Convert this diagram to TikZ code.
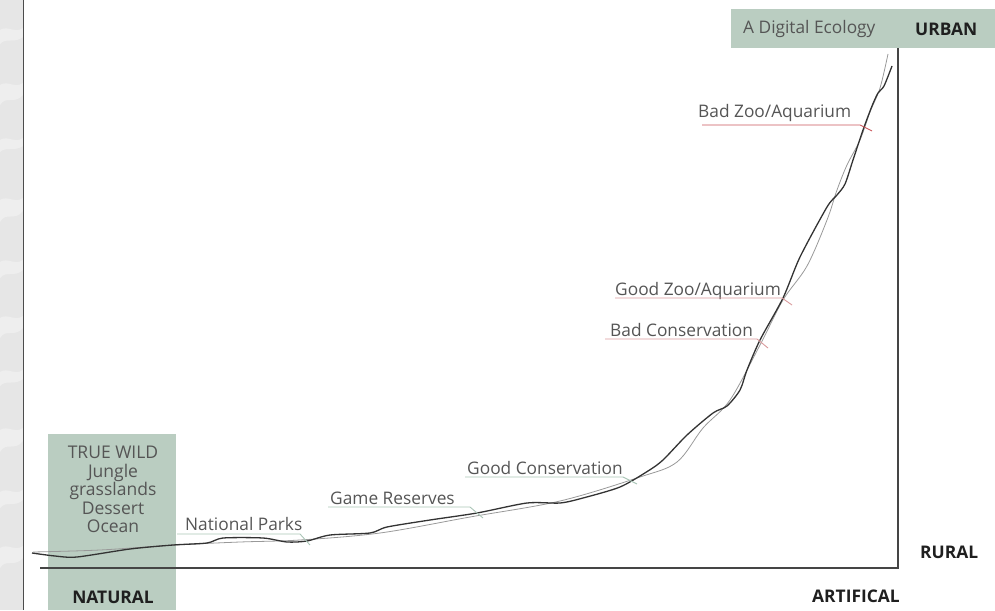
\documentclass[tikz,border=0pt]{standalone}
\usepackage{fontspec}
\setmainfont{Open Sans}
\usetikzlibrary{calc}
\definecolor{sage}{HTML}{BACDC1}
\definecolor{txtgray}{HTML}{555555}
\definecolor{axisgray}{HTML}{454545}
\definecolor{lowline}{HTML}{A9C5B6}
\definecolor{midline}{HTML}{D99A9C}
\definecolor{highline}{HTML}{C9565A}
\definecolor{stripgray}{HTML}{E6E6E6}
\begin{document}
\begin{tikzpicture}[x=1pt,y=-1pt,
  stagelabel/.style={font=\fontsize{17.3}{19}\selectfont, text=txtgray, inner sep=0pt, anchor=base west},
  axislabel/.style={font=\fontsize{17.4}{19}\bfseries\selectfont, text=black!88, inner sep=0pt, anchor=base west},
  uline/.style={line width=0.9pt},
  curvemain/.style={line width=1.3pt, draw=black!80, line join=round},
  curvesoft/.style={line width=0.8pt, draw=black!40, line join=round}]
\useasboundingbox (0,0) rectangle (995,610);

% marbled strip on the left edge
\fill[stripgray] (0,0) rectangle (23,610);
\foreach \y/\w in {30/14,85/20,140/12,200/22,262/16,318/20,372/14,430/22,492/16,548/20}
  \fill[white, opacity=0.35] (0,\y) .. controls (8,\y-5) and (15,\y+4) .. (23,\y-2) -- (23,\y+\w*0.5) .. controls (14,\y+\w) and (6,\y+\w*0.5) .. (0,\y+\w) -- cycle;
\draw[line width=0.9pt, black!70] (23,0) -- (23,610);

% shaded panels
\fill[sage] (48,434) rectangle (176,610);
\fill[sage] (731,9) rectangle (995,48);

% axes
\coordinate (origin) at (40,568);
\coordinate (corner) at (898,568);
\coordinate (top) at (898,48);
\draw[line width=1.4pt, axisgray] (origin) -- (corner) -- (top);

% panel texts
\node[font=\fontsize{17.5}{18.5}\selectfont, text=txtgray, align=center, anchor=north, inner sep=0pt] (wild) at (113,446) {TRUE WILD\\Jungle\\grasslands\\Dessert\\Ocean};
\node[axislabel, anchor=base] (natural) at (113,603) {NATURAL};
\node[stagelabel] (digital) at (743,34) {A Digital Ecology};
\node[axislabel] (urban) at (915,36) {URBAN};
\node[axislabel] (rural) at (920,558) {RURAL};
\node[axislabel] (artif) at (812,602) {ARTIFICAL};

% the two traced curves
\draw[curvesoft] plot[smooth, tension=0.55] coordinates {
  (33,552) (100,550) (175,545) (240,542) (300,540) (380,533) (470,517)
  (560,501) (640,477) (677,462) (703,428) (730,400) (760,345) (783,300)
  (807,266) (827,220) (837,190) (847,165) (860,140) (870,112) (880,88) (888,54)};
\draw[curvemain] plot[smooth, tension=0.45] coordinates {
  (32,553) (55,556) (77,557) (130,549) (173,545) (207,543) (223,538)
  (263,538) (287,542) (307,541) (330,535) (370,533) (387,527) (430,520)
  (477,513) (527,503) (560,503) (583,498) (620,487) (648,471) (663,460)
  (687,435) (713,413) (727,406) (740,390) (747,370) (760,340) (783,298)
  (800,257) (827,207) (837,195) (845,184) (853,160) (863,130) (872,106)
  (878,93) (884,86) (892,66)};

% stage labels with their underlines
\node[stagelabel] (np) at (185,530) {National Parks};
\coordinate (np-a) at (177,534); \coordinate (np-b) at (300,534); \coordinate (np-c) at (310,545);
\draw[uline, lowline] (np-a) -- (np-b) -- (np-c);

\node[stagelabel] (gr) at (330,504) {Game Reserves};
\coordinate (gr-a) at (328,507); \coordinate (gr-b) at (470,507); \coordinate (gr-c) at (483,518);
\draw[uline, lowline] (gr-a) -- (gr-b) -- (gr-c);

\node[stagelabel] (gc) at (467,474) {Good Conservation};
\coordinate (gc-a) at (465,477); \coordinate (gc-b) at (623,477); \coordinate (gc-c) at (637,484);
\draw[uline, lowline] (gc-a) -- (gc-b) -- (gc-c);

\node[stagelabel] (bc) at (610,336) {Bad Conservation};
\coordinate (bc-a) at (605,339); \coordinate (bc-b) at (757,339); \coordinate (bc-c) at (768,348);
\draw[uline, midline] (bc-a) -- (bc-b) -- (bc-c);

\node[stagelabel] (gz) at (615,295) {Good Zoo/Aquarium};
\coordinate (gz-a) at (615,298); \coordinate (gz-b) at (782,298); \coordinate (gz-c) at (792,305);
\draw[uline, midline] (gz-a) -- (gz-b) -- (gz-c);

\node[stagelabel] (bz) at (698,117) {Bad Zoo/Aquarium};
\coordinate (bz-a) at (702,125); \coordinate (bz-b) at (860,125); \coordinate (bz-c) at (872,131);
\draw[uline, highline] (bz-a) -- (bz-b) -- (bz-c);
\end{tikzpicture}
\end{document}
